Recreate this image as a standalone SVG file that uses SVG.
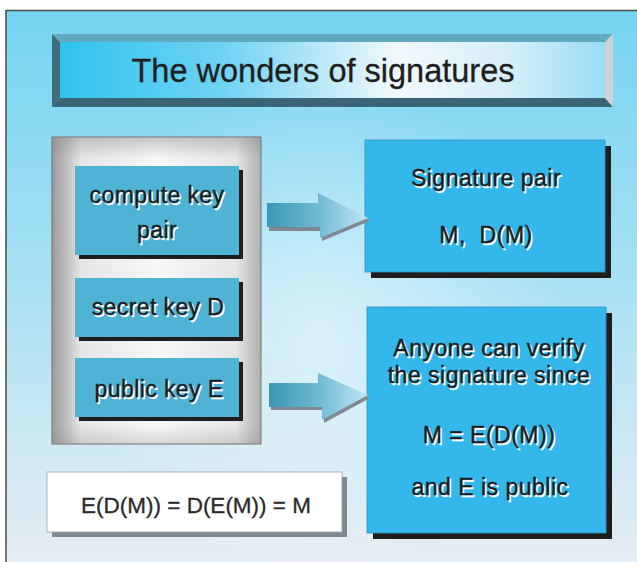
<svg xmlns="http://www.w3.org/2000/svg" width="637" height="562" viewBox="0 0 637 562">
<defs>
<linearGradient id="bg" x1="0" y1="0" x2="0" y2="1">
<stop offset="0" stop-color="#74d4f1"/>
<stop offset="0.45" stop-color="#a4e0f4"/>
<stop offset="1" stop-color="#e8eef3"/>
</linearGradient>
<radialGradient id="glow" cx="320" cy="330" r="250" gradientUnits="userSpaceOnUse">
<stop offset="0" stop-color="#ffffff" stop-opacity="0.5"/>
<stop offset="1" stop-color="#ffffff" stop-opacity="0"/>
</radialGradient>
<linearGradient id="titleFace" x1="0" y1="0" x2="1" y2="0">
<stop offset="0" stop-color="#2fc3ee"/>
<stop offset="0.3" stop-color="#6fd3f3"/>
<stop offset="0.62" stop-color="#f2f9fc"/>
<stop offset="0.82" stop-color="#d6eff8"/>
<stop offset="1" stop-color="#98ddf4"/>
</linearGradient>
<linearGradient id="panelH" x1="0" y1="0" x2="1" y2="0">
<stop offset="0" stop-color="#9a9a9a"/>
<stop offset="0.14" stop-color="#e6e6e6"/>
<stop offset="0.5" stop-color="#f7f7f7"/>
<stop offset="0.88" stop-color="#e6e6e6"/>
<stop offset="1" stop-color="#b0b0b0"/>
</linearGradient>
<linearGradient id="panelV" x1="0" y1="0" x2="0" y2="1">
<stop offset="0" stop-color="#8a8a8a" stop-opacity="0.45"/>
<stop offset="0.07" stop-color="#8a8a8a" stop-opacity="0"/>
<stop offset="0.94" stop-color="#8a8a8a" stop-opacity="0"/>
<stop offset="1" stop-color="#8a8a8a" stop-opacity="0.3"/>
</linearGradient>
<linearGradient id="arrowG" x1="0" y1="0" x2="1" y2="0">
<stop offset="0" stop-color="#3b97b6"/>
<stop offset="0.5" stop-color="#6fb9d4"/>
<stop offset="1" stop-color="#bfe6f4"/>
</linearGradient>
<style>
.lbl{font-family:"Liberation Sans",Arial,sans-serif;text-anchor:middle;white-space:pre;}
.lb{font-size:23px;letter-spacing:0.4px;}
.rb{font-size:23px;letter-spacing:0.5px;}
.ink{fill:#1c1c1c;stroke:#1c1c1c;stroke-width:0.35px;}
.hl{fill:#ffffff;stroke:#ffffff;stroke-width:0.35px;}
.lbox{fill:#4fb3d6;}
.rbox{fill:#34b8eb;stroke:#2b93c0;stroke-width:0.8;}
.shadow{fill:#1e1e1e;}
.ashadow{fill:#7f8a90;}
</style>
</defs>

<rect x="0" y="0" width="637" height="562" fill="#ffffff"/>
<rect x="6" y="10" width="640" height="560" fill="url(#bg)"/>
<rect x="6" y="10" width="640" height="560" fill="url(#glow)"/>
<path d="M6,562 V10.5 H637" fill="none" stroke="#4a4a4a" stroke-width="1.5"/>

<g id="title">
<polygon points="52,34 613,34 605,42 60,42" fill="#5fa9c1"/>
<polygon points="52,34 60,42 60,98 52,107" fill="#3e6c7d"/>
<polygon points="52,107 60,98 605,98 613,107" fill="#3b6474"/>
<polygon points="613,34 605,42 605,98 613,107" fill="#cfd2d3"/>
<rect x="60" y="42" width="545" height="56" fill="url(#titleFace)"/>
<text class="lbl" x="323" y="82" font-size="32.5" fill="#1e1e1e" stroke="#1e1e1e" stroke-width="0.3">The wonders of signatures</text>
</g>

<g id="panel">
<rect x="52" y="137" width="209" height="307" fill="url(#panelH)" stroke="#707070" stroke-width="1"/>
<rect x="52" y="137" width="209" height="307" fill="url(#panelV)"/>
</g>

<g id="compute">
<rect class="shadow" x="79" y="170" width="164" height="89"/>
<rect class="lbox" x="75" y="166" width="164" height="89"/>
<text class="lbl lb hl" x="158.5" y="204.5">compute key</text>
<text class="lbl lb ink" x="157" y="203">compute key</text>
<text class="lbl lb hl" x="158.5" y="239.5">pair</text>
<text class="lbl lb ink" x="157" y="238">pair</text>
</g>

<g id="secret">
<rect class="shadow" x="79" y="282" width="164" height="59"/>
<rect class="lbox" x="75" y="278" width="164" height="59"/>
<text class="lbl lb hl" x="159.5" y="316.5">secret key D</text>
<text class="lbl lb ink" x="158" y="315">secret key D</text>
</g>

<g id="public">
<rect class="shadow" x="79" y="362" width="164" height="59"/>
<rect class="lbox" x="75" y="358" width="164" height="59"/>
<text class="lbl lb hl" x="160.5" y="398.5">public key E</text>
<text class="lbl lb ink" x="159" y="397">public key E</text>
</g>

<g id="sigpair">
<rect class="shadow" x="371" y="146" width="240" height="132"/>
<rect class="rbox" x="365" y="140" width="240" height="132"/>
<text class="lbl rb hl" x="487.5" y="187.5">Signature pair</text>
<text class="lbl rb ink" x="486" y="186">Signature pair</text>
<text class="lbl rb hl" x="487.5" y="244.5">M,  D(M)</text>
<text class="lbl rb ink" x="486" y="243">M,  D(M)</text>
</g>

<g id="verify">
<rect class="shadow" x="373" y="313" width="239" height="226"/>
<rect class="rbox" x="367" y="307" width="239" height="226"/>
<text class="lbl rb hl" x="490.5" y="357.5">Anyone can verify</text>
<text class="lbl rb ink" x="489" y="356">Anyone can verify</text>
<text class="lbl rb hl" x="490.5" y="384.5">the signature since</text>
<text class="lbl rb ink" x="489" y="383">the signature since</text>
<text class="lbl rb hl" x="490.5" y="444.5">M = E(D(M))</text>
<text class="lbl rb ink" x="489" y="443">M = E(D(M))</text>
<text class="lbl rb hl" x="491.5" y="496.5">and E is public</text>
<text class="lbl rb ink" x="490" y="495">and E is public</text>
</g>

<g id="identity">
<rect x="52" y="477" width="295" height="60" fill="#7d8a92"/>
<rect x="47" y="472" width="295" height="60" fill="#ffffff" stroke="#9aa4aa" stroke-width="0.8"/>
<text class="lbl" x="196" y="513" font-size="22.5" fill="#2a2a2a" stroke="#2a2a2a" stroke-width="0.3">E(D(M)) = D(E(M)) = M</text>
</g>

<g id="connectors">
<polygon class="ashadow" points="269,206 320,206 320,196 370,221 322,241 322,231 269,231"/>
<polygon points="267,203 318,203 318,193 368,218 320,238 320,227 267,227" fill="url(#arrowG)"/>
<polygon class="ashadow" points="271,386 320,386 320,376 370,398 324,423 324,410 271,410"/>
<polygon points="269,383 318,383 318,373 368,395 322,420 322,407 269,407" fill="url(#arrowG)"/>
</g>
</svg>
